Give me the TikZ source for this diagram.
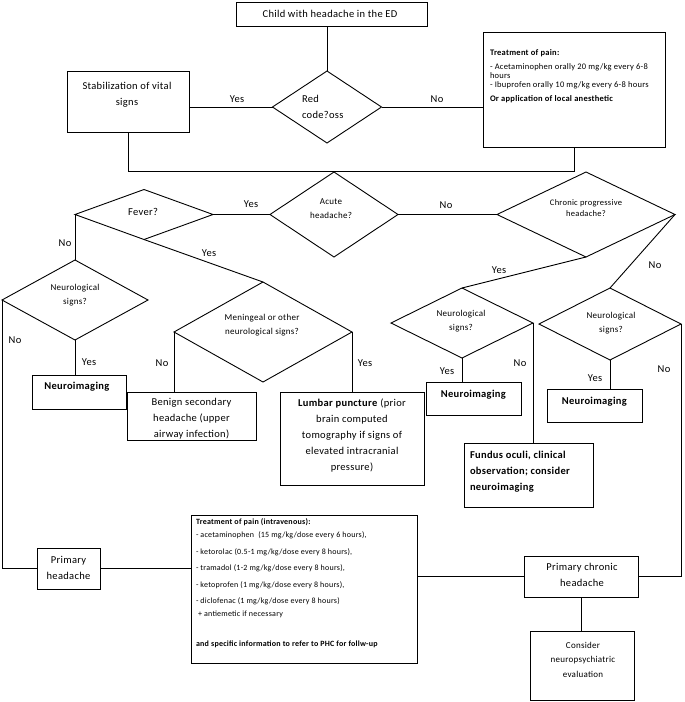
\documentclass[tikz,border=0pt]{standalone}
\usepackage{fontspec}
\setmainfont{Carlito}[LetterSpace=3]
\usetikzlibrary{shapes.geometric}
\begin{document}
\begin{tikzpicture}[x=1pt,y=-1pt,line width=0.9pt,
  box/.style={draw, rectangle, inner sep=0pt, outer sep=0pt},
  dia/.style={draw, diamond, inner sep=0pt, outer sep=0pt},
  txt/.style={inner sep=0pt, outer sep=0pt, align=center},
  fmain/.style={font=\fontsize{10.5}{16}\selectfont},
  fdia/.style={font=\fontsize{9}{14}\selectfont},
  fchr/.style={font=\fontsize{8.5}{11}\selectfont},
  fsmall/.style={font=\fontsize{8.5}{9}\selectfont},
  ftreat/.style={font=\fontsize{8}{13}\selectfont},
  fcons/.style={font=\fontsize{9}{14.5}\selectfont},
  lbl/.style={inner sep=0pt, outer sep=0pt, font=\fontsize{10.5}{12}\selectfont}]
\useasboundingbox (0,0) rectangle (685,702);
% boxes
\node[box, minimum width=191pt, minimum height=24pt] (top) at (331.5,14) {};
\node[box, minimum width=122pt, minimum height=61pt] (stab) at (128,101.5) {};
\node[box, minimum width=182pt, minimum height=115pt] (treat1) at (574,89.5) {};
\node[box, minimum width=94pt, minimum height=34pt] (nim1) at (79,392) {};
\node[box, minimum width=129pt, minimum height=48pt] (benign) at (191.5,416) {};
\node[box, minimum width=144pt, minimum height=93pt] (lumbar) at (352,438.5) {};
\node[box, minimum width=95pt, minimum height=33pt] (nim2) at (473.5,398.5) {};
\node[box, minimum width=95pt, minimum height=33pt] (nim3) at (594.5,405.5) {};
\node[box, minimum width=129pt, minimum height=64pt] (fundus) at (528.5,475) {};
\node[box, minimum width=63pt, minimum height=41pt] (primary) at (68.5,568.5) {};
\node[box, minimum width=226pt, minimum height=148pt] (treat2) at (304,589) {};
\node[box, minimum width=114pt, minimum height=41pt] (pch) at (581,576.5) {};
\node[box, minimum width=104pt, minimum height=69pt] (consider) at (582,665.5) {};
% diamonds
\node[dia, minimum width=109pt, minimum height=72pt] (red) at (327,107) {};
\node[dia, minimum width=138pt, minimum height=50pt] (fever) at (144,214.5) {};
\node[dia, minimum width=128pt, minimum height=85pt] (acute) at (334,214.5) {};
\node[dia, minimum width=178pt, minimum height=85pt] (chronic) at (586,214.5) {};
\node[dia, minimum width=146pt, minimum height=80pt] (neu1) at (75,300) {};
\node[dia, minimum width=178pt, minimum height=100pt] (mening) at (263,332) {};
\node[dia, minimum width=142pt, minimum height=70pt] (neu2) at (462,323) {};
\node[dia, minimum width=142pt, minimum height=72pt] (neu3) at (610,324) {};
% texts
\node[txt, fmain] (ttop) at (330,14) {Child with headache in the ED};
\node[txt, fmain] (tstab) at (127,95) {Stabilization of vital\\signs};
\node[txt, fmain, align=left, anchor=west] (tred) at (302,107) {Red\\code?oss};
\node[txt, fsmall, align=left, anchor=north west] (ttreat1) at (490,50) {\textbf{Treatment of pain:}\\[5pt]- Acetaminophen orally 20 mg/kg every 6-8\\hours\\- Ibuprofen orally 10 mg/kg every 6-8 hours\\[5pt]\textbf{Or application of local anesthetic}};
\node[txt, fmain] (tfever) at (143,212) {Fever?};
\node[txt, fdia] (tacute) at (331,209) {Acute\\headache?};
\node[txt, fchr] (tchronic) at (586,208.5) {Chronic progressive\\headache?};
\node[txt, fdia] (tneu1) at (75,295) {Neurological\\signs?};
\node[txt, fdia] (tmening) at (262,325) {Meningeal or other\\neurological signs?};
\node[txt, fdia] (tneu2) at (461,321.5) {Neurological\\signs?};
\node[txt, fdia] (tneu3) at (611,323) {Neurological\\signs?};
\node[txt, fmain] (tnim1) at (77,387) {\textbf{Neuroimaging}};
\node[txt, fmain] (tnim2) at (473.5,395) {\textbf{Neuroimaging}};
\node[txt, fmain] (tnim3) at (594.5,402) {\textbf{Neuroimaging}};
\node[txt, fmain] (tbenign) at (191.5,419) {Benign secondary\\headache (upper\\airway infection)};
\node[txt, fmain] (tlumbar) at (352,436) {\textbf{Lumbar puncture} (prior\\brain computed\\tomography if signs of\\elevated intracranial\\pressure)};
\node[txt, fmain, align=left, anchor=west] (tfundus) at (470,472) {\textbf{Fundus oculi, clinical}\\\textbf{observation; consider}\\\textbf{neuroimaging}};
\node[txt, fmain] (tprimary) at (68.5,567.5) {Primary\\headache};
\node[txt, ftreat, align=left, anchor=north west] (ttreat2) at (196,519) {\textbf{Treatment of pain (intravenous):}\\- acetaminophen~~(15 mg/kg/dose every 6 hours),\\[3.5pt]- ketorolac (0.5-1 mg/kg/dose every 8 hours),\\[3.5pt]- tramadol (1-2 mg/kg/dose every 8 hours),\\[3.5pt]- ketoprofen (1 mg/kg/dose every 8 hours),\\[3.5pt]- diclofenac (1 mg/kg/dose every 8 hours)\\~+ antiemetic if necessary\\[17pt]\textbf{and specific information to refer to PHC for follw-up}};
\node[txt, fmain] (tpch) at (582,575) {Primary chronic\\headache};
\node[txt, fcons] (tconsider) at (583,659.5) {Consider\\neuropsychiatric\\evaluation};
% connectors
\draw (red.north |- top.south) -- (red.north);
\draw (red.west -| stab.east) -- (red.west);
\draw (red.east) -- (red.east -| treat1.west);
\coordinate (hl) at (0,171.5);
\draw (stab.south) |- (hl -| treat1.south) -- (treat1.south);
\draw (fever.east) -- (acute.west);
\draw (acute.east) -- (chronic.west);
\draw (fever.west) -- (neu1.north);
\draw (fever.south) -- (mening.north);
\draw (neu1.west) |- (primary.west);
\draw (neu1.south) -- (nim1.north -| neu1.south);
\draw (mening.west) -- (benign.north -| mening.west);
\draw (mening.east) -- (lumbar.north -| mening.east);
\draw (chronic.south) -- (neu2.north);
\draw (chronic.east) -- (neu3.north);
\draw (neu2.south) -- (nim2.north -| neu2.south);
\draw (neu2.east) -- (fundus.north -| neu2.east);
\draw (neu3.south) -- (nim3.north -| neu3.south);
\draw (neu3.east) |- (pch.east);
\draw (primary.east) -- (primary.east -| treat2.west);
\draw (pch.west -| treat2.east) -- (pch.west);
\draw (pch.south) -- (consider.north -| pch.south);
% labels
\node[lbl] (l1) at (237,99) {Yes};
\node[lbl] (l2) at (437,99) {No};
\node[lbl] (l3) at (251,204) {Yes};
\node[lbl] (l4) at (446,205) {No};
\node[lbl] (l5) at (65,243) {No};
\node[lbl] (l6) at (209,253) {Yes};
\node[lbl] (l7) at (15,340) {No};
\node[lbl] (l8) at (89,362) {Yes};
\node[lbl] (l9) at (162,363) {No};
\node[lbl] (l10) at (365,363) {Yes};
\node[lbl] (l11) at (499,270) {Yes};
\node[lbl] (l12) at (655,265) {No};
\node[lbl] (l13) at (447,371) {Yes};
\node[lbl] (l14) at (520,363) {No};
\node[lbl] (l15) at (595,378) {Yes};
\node[lbl] (l16) at (664,369) {No};
\end{tikzpicture}
\end{document}
